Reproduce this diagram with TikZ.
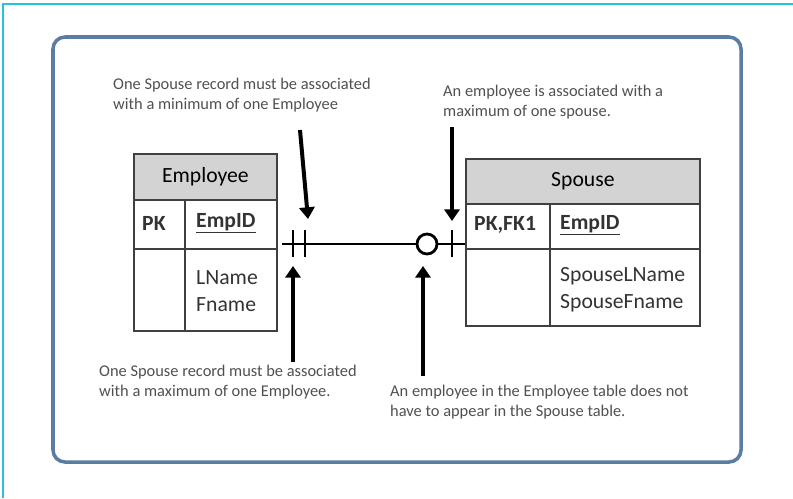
\documentclass[tikz,border=0pt]{standalone}
\usepackage{fontspec}
\setmainfont{Carlito}
\usetikzlibrary{arrows.meta}
\definecolor{frameblue}{HTML}{5B7DA3}
\definecolor{pagecyan}{HTML}{29C4D4}
\definecolor{notegray}{HTML}{505050}
\definecolor{headgray}{HTML}{D3D3D3}
\definecolor{tableline}{HTML}{404040}
\begin{document}
\begin{tikzpicture}[x=0.03cm, y=-0.03cm,
        note/.style={anchor=west, align=left, inner sep=0pt, text=notegray, font=\fontsize{14}{17}\selectfont},
        cell/.style={draw=tableline, line width=1.5pt, anchor=north west, inner sep=0pt, font=\fontsize{18.5}{23}\selectfont},
        head/.style={cell, fill=headgray},
        entry/.style={anchor=west, align=left, inner sep=0pt, text=black!80, font=\fontsize{18.5}{23}\selectfont},
        keyentry/.style={entry, font=\fontsize{18.5}{23}\selectfont\bfseries},
        pointer/.style={line width=3.4pt, -{Triangle[length=10pt,width=13pt]}},
        bar/.style={line width=2.4pt}]
        \useasboundingbox (0,0) rectangle (793,498);
        \draw[pagecyan, line width=1.2pt] (3,498) -- (3,4) -- (793,4);
        \draw[frameblue, line width=3pt, rounded corners=0.36cm] (53,37) rectangle (741,462);

        % Employee table
        \node[head, minimum width=4.29cm, minimum height=1.38cm] (emphead) at (133,153) {Employee};
        \node[cell, minimum width=1.53cm, minimum height=1.47cm] (empkeyl) at (133,199) {};
        \node[cell, minimum width=2.76cm, minimum height=1.47cm] (empkeyr) at (184,199) {};
        \node[cell, minimum width=1.53cm, minimum height=2.46cm] (empattl) at (133,248) {};
        \node[cell, minimum width=2.76cm, minimum height=2.46cm] (empattr) at (184,248) {};
        \node[keyentry] (emppk) at (142,223) {PK};
        \node[keyentry] (empid) at (196,223) {\underline{EmpID}};
        \node[entry] (empnames) at (196,291) {LName\\Fname};

        % Spouse table
        \node[head, minimum width=7.02cm, minimum height=1.35cm] (sphead) at (465,158) {Spouse};
        \node[cell, minimum width=2.52cm, minimum height=1.35cm] (spkeyl) at (465,203) {};
        \node[cell, minimum width=4.5cm, minimum height=1.35cm] (spkeyr) at (549,203) {};
        \node[cell, minimum width=2.52cm, minimum height=2.31cm] (spattl) at (465,248) {};
        \node[cell, minimum width=4.5cm, minimum height=2.31cm] (spattr) at (549,248) {};
        \node[keyentry] (sppk) at (474,225) {PK,FK1};
        \node[keyentry] (spid) at (560,225) {\underline{EmpID}};
        \node[entry] (spnames) at (560,290) {SpouseLName\\SpouseFname};

        % relationship
        \coordinate (relA) at (282,244);
        \draw[line width=1.8pt] (relA) -- (relA -| spkeyl.west);
        \draw[bar] (293,230) -- (293,257);
        \draw[bar] (305,230) -- (305,257);
        \draw[bar] (452,230) -- (452,257);
        \node[circle, draw, line width=2.4pt, fill=white, minimum size=0.6cm, inner sep=0pt] (zero) at (427,244) {};

        % notes
        \node[note] (topnote1) at (113,95) {One Spouse record must be associated\\with a minimum of one Employee};
        \node[note] (topnote2) at (443,102) {An employee is associated with a\\maximum of one spouse.};
        \node[note] (lownote1) at (99,382) {One Spouse record must be associated\\with a maximum of one Employee.};
        \node[note] (lownote2) at (390,402) {An employee in the Employee table does not\\have to appear in the Spouse table.};

        \coordinate (p1a) at (300,130);
        \coordinate (p1b) at (308,219);
        \coordinate (p2a) at (452,127);
        \coordinate (p2b) at (452,221);
        \coordinate (p3a) at (293,362);
        \coordinate (p3b) at (293,266);
        \coordinate (p4a) at (423,376);
        \coordinate (p4b) at (423,266);
        \draw[pointer] (p1a) -- (p1b);
        \draw[pointer] (p2a) -- (p2b);
        \draw[pointer] (p3a) -- (p3b);
        \draw[pointer] (p4a) -- (p4b);
    \end{tikzpicture}
\end{document}
